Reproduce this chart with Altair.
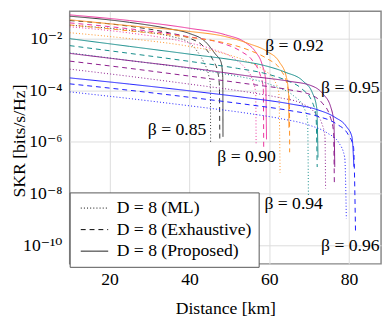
import altair as alt
import pandas as pd

# ---- data (distance in km, log10 of SKR) ----
betas = ["0.85", "0.90", "0.92", "0.94", "0.95", "0.96"]
beta_colors = ["#333333", "#eb2f9c", "#ff9020", "#108a88", "#8a1a8a", "#1a1aff"]
methods = ["D = 8 (ML)", "D = 8 (Exhaustive)", "D = 8 (Proposed)"]

# beta = 0.85
d_085_ml = [10, 25, 35, 39.5, 42, 43.7, 44.8, 45.25, 45.3]
v_085_ml = [-1.48, -1.68, -1.9, -2.12, -2.5, -2.95, -3.4, -3.8, -6.0]
d_085_ex = [10, 25, 35, 40, 43.5, 45.8, 47.1, 47.5, 47.6]
v_085_ex = [-1.30, -1.52, -1.78, -1.98, -2.3, -2.8, -3.3, -3.8, -5.9]
d_085_pr = [10, 25, 35, 40, 44, 46.5, 47.9, 48.35, 48.4]
v_085_pr = [-1.13, -1.37, -1.62, -1.80, -2.12, -2.6, -2.9, -3.5, -5.8]

# beta = 0.90
d_090_ml = [10, 25, 38, 46, 51, 54, 55.8, 56.6, 56.7]
v_090_ml = [-1.54, -1.78, -2.1, -2.42, -2.75, -3.15, -3.6, -4.1, -6.1]
d_090_ex = [10, 25, 40, 48, 53, 55.8, 57.6, 58.5, 58.6]
v_090_ex = [-1.39, -1.62, -1.93, -2.17, -2.5, -2.85, -3.35, -3.9, -6.2]
d_090_pr = [10, 25, 40, 49, 54, 56.5, 58.2, 59.1, 59.3]
v_090_pr = [-1.08, -1.3, -1.6, -1.85, -2.15, -2.5, -3.0, -3.6, -5.9]

# beta = 0.92
d_092_ml = [10, 25, 40, 48, 54, 58.5, 61.2, 62.4, 62.7]
v_092_ml = [-1.77, -2.0, -2.3, -2.55, -2.85, -3.2, -3.6, -4.1, -7.2]
d_092_ex = [10, 25, 40, 49, 55, 59.5, 62.8, 64.5, 65.05, 65.1]
v_092_ex = [-1.47, -1.7, -1.95, -2.17, -2.45, -2.78, -3.2, -3.8, -4.4, -6.4]
d_092_pr = [10, 25, 40, 49, 55, 59.5, 62.5, 64.3, 64.85, 64.9]
v_092_pr = [-1.27, -1.5, -1.72, -1.92, -2.2, -2.5, -2.9, -3.5, -4.2, -5.45]

# beta = 0.94
d_094_ml = [10, 25, 40, 50, 57, 62, 66, 68.6, 69.6, 69.8]
v_094_ml = [-2.55, -2.85, -3.15, -3.4, -3.62, -3.88, -4.2, -4.65, -5.2, -8.1]
d_094_ex = [10, 25, 40, 52, 59, 64, 68.2, 70.6, 71.7, 72.0]
v_094_ex = [-2.27, -2.57, -2.88, -3.15, -3.35, -3.6, -3.95, -4.4, -5.0, -6.97]
d_094_pr = [10, 25, 40, 52, 59, 64, 68.5, 70.8, 71.9, 72.2]
v_094_pr = [-2.0, -2.3, -2.6, -2.85, -3.05, -3.3, -3.65, -4.1, -4.7, -6.6]

# beta = 0.95
d_095_ml = [10, 25, 40, 55, 63, 68, 71.3, 73.2, 73.95, 74.1]
v_095_ml = [-3.18, -3.46, -3.76, -4.08, -4.3, -4.5, -4.85, -5.3, -5.8, -7.8]
d_095_ex = [10, 25, 40, 55, 65, 70.3, 73.3, 75.2, 76.1, 76.3]
v_095_ex = [-2.87, -3.15, -3.45, -3.76, -3.98, -4.17, -4.5, -5.0, -5.6, -7.65]
d_095_pr = [10, 25, 40, 55, 65, 70.5, 73.5, 75.4, 76.2, 76.4]
v_095_pr = [-2.57, -2.85, -3.13, -3.45, -3.65, -3.82, -4.15, -4.65, -5.3, -6.97]

# beta = 0.96
d_096_ml = [10, 25, 40, 55, 63, 70, 74.5, 77.5, 78.9, 79.3]
v_096_ml = [-4.06, -4.32, -4.6, -4.9, -5.1, -5.35, -5.65, -6.05, -6.6, -8.97]
d_096_ex = [10, 25, 40, 55, 65, 72, 76.8, 79.7, 81.1, 81.6]
v_096_ex = [-3.75, -4.0, -4.27, -4.56, -4.78, -5.0, -5.3, -5.7, -6.2, -9.47]
d_096_pr = [10, 25, 40, 55, 65, 72, 76.5, 79.3, 80.7, 81.2]
v_096_pr = [-3.52, -3.76, -4.02, -4.3, -4.52, -4.75, -5.05, -5.4, -5.8, -6.96]

# curve labels (position in data units)
label_text = ["β = 0.85", "β = 0.90", "β = 0.92", "β = 0.94", "β = 0.95", "β = 0.96"]
label_x = [36.9, 54.3, 66.3, 66.1, 80.3, 80.3]
label_y = [-5.56, -6.59, -2.30, -8.41, -3.93, -10.04]

y_ticks = [1e-10, 1e-8, 1e-6, 1e-4, 1e-2]
x_ticks = [20, 40, 60, 80]

# ---- build the table ----
curves = {
    ("0.85", 0): (d_085_ml, v_085_ml), ("0.85", 1): (d_085_ex, v_085_ex), ("0.85", 2): (d_085_pr, v_085_pr),
    ("0.90", 0): (d_090_ml, v_090_ml), ("0.90", 1): (d_090_ex, v_090_ex), ("0.90", 2): (d_090_pr, v_090_pr),
    ("0.92", 0): (d_092_ml, v_092_ml), ("0.92", 1): (d_092_ex, v_092_ex), ("0.92", 2): (d_092_pr, v_092_pr),
    ("0.94", 0): (d_094_ml, v_094_ml), ("0.94", 1): (d_094_ex, v_094_ex), ("0.94", 2): (d_094_pr, v_094_pr),
    ("0.95", 0): (d_095_ml, v_095_ml), ("0.95", 1): (d_095_ex, v_095_ex), ("0.95", 2): (d_095_pr, v_095_pr),
    ("0.96", 0): (d_096_ml, v_096_ml), ("0.96", 1): (d_096_ex, v_096_ex), ("0.96", 2): (d_096_pr, v_096_pr),
}
rows = []
for (b, m), (ds, vs) in curves.items():
    for i, (d, v) in enumerate(zip(ds, vs)):
        rows.append({"beta": b, "method": methods[m], "dist": d, "skr": 10 ** v, "order": i})
df = pd.DataFrame(rows)

labels = pd.DataFrame({"text": label_text, "x": label_x, "y": [10 ** v for v in label_y]})

FONT = "'Liberation Serif', 'Times New Roman', 'DejaVu Serif', serif"
FS = 18

x_scale = alt.Scale(domain=[10, 88], nice=False, zero=False)
y_scale = alt.Scale(type="log", domain=[10 ** -10.72, 10 ** -0.94], nice=False)

sup = "datum.value < 5e-10 ? '10⁻¹⁰' : datum.value < 5e-8 ? '10⁻⁸' : datum.value < 5e-6 ? '10⁻⁶' : datum.value < 5e-4 ? '10⁻⁴' : '10⁻²'"

lines = alt.Chart(df).mark_line(strokeWidth=1, interpolate="monotone", clip=True).encode(
    x=alt.X("dist:Q", scale=x_scale,
            axis=alt.Axis(values=x_ticks, title="Distance [km]", grid=True, domain=False,
                          tickSize=0, labelPadding=7, titlePadding=12, format="d")),
    y=alt.Y("skr:Q", scale=y_scale,
            axis=alt.Axis(values=y_ticks, title="SKR [bits/s/Hz]", grid=True, domain=False,
                          tickSize=0, labelPadding=8, labelExpr=sup,
                          titleX=-51, titleY=132, titleAlign="center", titleBaseline="middle")),
    color=alt.Color("beta:N", scale=alt.Scale(domain=betas, range=beta_colors), legend=None),
    strokeDash=alt.StrokeDash(
        "method:N",
        scale=alt.Scale(domain=methods, range=[[1, 2.2], [5, 4], [1, 0]]),
        legend=alt.Legend(orient="none", legendX=0, legendY=185, title=None,
                          fillColor="white", strokeColor="#555555", padding=7,
                          labelFont=FONT, labelFontSize=FS, labelColor="black",
                          symbolType="M-1,0H5", symbolStrokeColor="black",
                          symbolStrokeWidth=1, symbolSize=87, rowPadding=4,
                          labelOffset=23, cornerRadius=0, labelLimit=400,
                          labelExpr="datum.label == 'D = 8 (Exhaustive)' ? datum.label + '\u00a0\u00a0' : datum.label"),
    ),
    order="order:Q",
)

texts = alt.Chart(labels).mark_text(font=FONT, fontSize=FS, color="black",
                                     align="center", baseline="middle").encode(
    x=alt.X("x:Q", scale=x_scale),
    y=alt.Y("y:Q", scale=y_scale),
    text="text:N",
)

chart = alt.layer(lines, texts).properties(
    width=318, height=258,
    padding={"left": 63, "top": 0, "right": 3, "bottom": 55},
    autosize=alt.AutoSizeParams(type="none"),
).configure_view(
    stroke="#888888", strokeWidth=1.5
).configure_axis(
    labelFont=FONT, labelFontSize=FS, labelColor="black",
    titleFont=FONT, titleFontSize=FS, titleFontWeight="normal", titleColor="black",
    gridColor="#dcdcdc", gridWidth=1,
)

chart.save("out.html", embed_options={"renderer": "svg", "actions": False})
